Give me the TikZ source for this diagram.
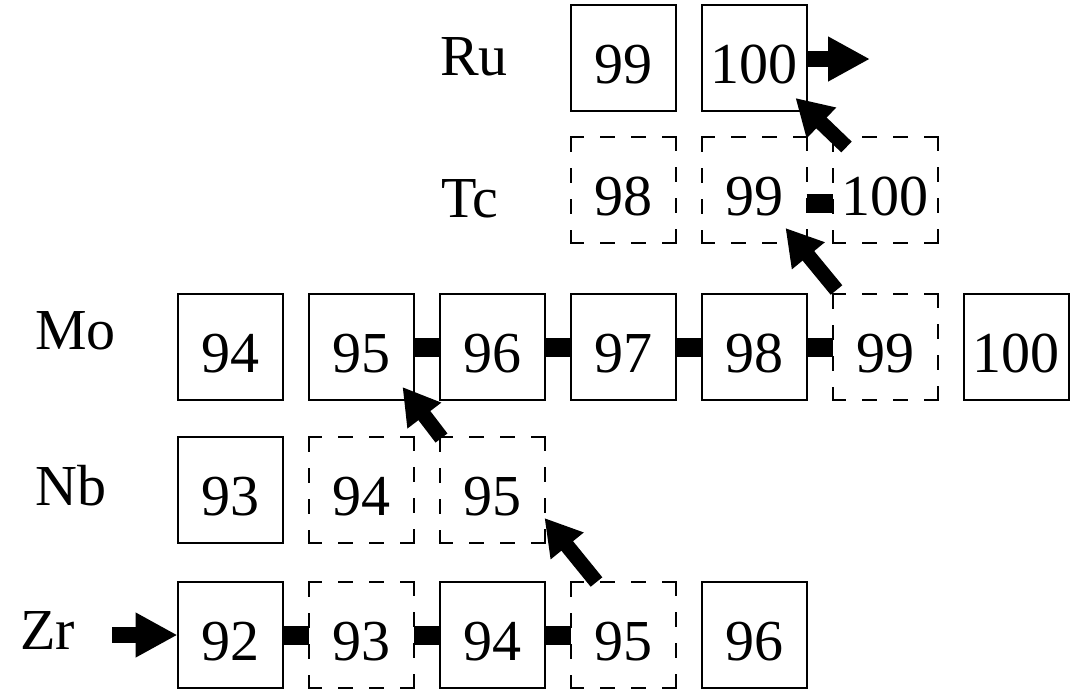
\documentclass[tikz,border=0pt]{standalone}
\usepackage{fontspec}
\setmainfont{Liberation Serif}
\usetikzlibrary{arrows.meta,calc}
% dashed outline drawn side by side, so every side starts and ends on a corner dash
\newcommand\dashedoutline[1]{%
  \draw[edgedash] (#1.north west) -- (#1.north east);
  \draw[edgedash] (#1.north east) -- (#1.south east);
  \draw[edgedash] (#1.south east) -- (#1.south west);
  \draw[edgedash] (#1.south west) -- (#1.north west);}
\begin{document}
\begin{tikzpicture}[x=1pt,y=-1pt,
  nucbase/.style={line width=2pt, minimum width=105pt, minimum height=106pt,
    inner sep=0pt, outer sep=0pt, text height=51pt, text depth=0pt,
    font=\fontsize{58}{60}\selectfont},
  nuc/.style={nucbase, draw},
  gone/.style={nucbase},
  edgedash/.style={line width=2pt, line cap=rect,
    dash pattern=on 12.5pt off 18pt on 13pt off 18pt on 13pt off 18pt on 12.5pt off 40pt},
  elem/.style={font=\fontsize{58}{60}\selectfont, inner sep=0pt, anchor=base west},
  bar/.style={line width=19pt},
  flow/.style={line width=15pt, -{Triangle[length=36pt,width=40pt]}},
  feed/.style={line width=16pt, -{Triangle[length=42pt,width=42pt]}}
]
\useasboundingbox (0,0) rectangle (1073,689);

% element labels
\node[elem] (lru) at (440,75)  {Ru};
\node[elem] (ltc) at (441,217) {Tc};
\node[elem] (lmo) at (35,349)  {Mo};
\node[elem] (lnb) at (35,505)  {Nb};
\node[elem] (lzr) at (20,649)  {Zr};

% Ru
\node[nuc]  (r99)  at (623,58)  {99};
\node[nuc]  (r100) at (754,58)  {100};
% Tc
\node[gone] (t98)  at (623,190) {98};
\node[gone] (t99)  at (754,190) {99};
\node[gone] (t100) at (885,190) {100};
% Mo
\node[nuc]  (m94)  at (230,347) {94};
\node[nuc]  (m95)  at (361,347) {95};
\node[nuc]  (m96)  at (492,347) {96};
\node[nuc]  (m97)  at (623,347) {97};
\node[nuc]  (m98)  at (754,347) {98};
\node[gone] (m99)  at (885,347) {99};
\node[nuc]  (m100) at (1016,347) {100};
% Nb
\node[nuc]  (n93)  at (230,490) {93};
\node[gone] (n94)  at (361,490) {94};
\node[gone] (n95)  at (492,490) {95};
% Zr
\node[nuc]  (z92)  at (230,635) {92};
\node[gone] (z93)  at (361,635) {93};
\node[nuc]  (z94)  at (492,635) {94};
\node[gone] (z95)  at (623,635) {95};
\node[nuc]  (z96)  at (754,635) {96};

% outlines of the unstable nuclides
\foreach \n in {t98,t99,t100,m99,n94,n95,z93,z95} {\dashedoutline{\n}}

% neutron-capture links
\draw[bar] (z92.east) -- (z93.west);
\draw[bar] (z93.east) -- (z94.west);
\draw[bar] (z94.east) -- (z95.west);
\draw[bar] (m95.east) -- (m96.west);
\draw[bar] (m96.east) -- (m97.west);
\draw[bar] (m97.east) -- (m98.west);
\draw[bar] (m98.east) -- (m99.west);
\draw[bar] ([yshift=-13pt]t99.east) -- ([yshift=-13pt]t100.west);

% beta decays
\draw[flow] ($(z95.north west)+(26,0)$) -- ($(n95.south east)+(0,-25)$);
\draw[flow] ($(n95.north west)+(2,1)$) -- ($(m95.south east)+(-11,-13)$);
\draw[flow] ($(m99.north west)+(4,-4)$) -- ($(t99.south east)+(-21,-15)$);
\draw[flow] ($(t100.north west)+(14,10)$) -- ($(r100.south east)+(-11,-13)$);

% entry and exit
\coordinate (zin) at (112,635);
\coordinate (rout) at (870,59);
\draw[feed] (zin) -- (z92.west);
\draw[feed] ([yshift=-1pt]r100.east) -- (rout);
\end{tikzpicture}
\end{document}
